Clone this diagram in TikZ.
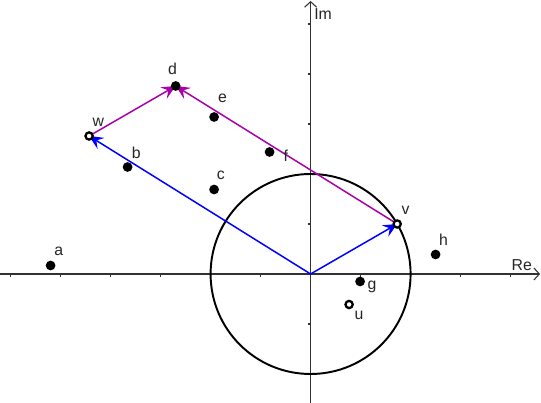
\documentclass[tikz,border=0pt]{standalone}
\usepackage{fontspec}
\setmainfont{Liberation Sans}
\usepackage{xcolor}
\usepackage{tikz}
\usetikzlibrary{arrows.meta,positioning}

\definecolor{vecBlue}{RGB}{0,0,255}
\definecolor{vecMagenta}{RGB}{170,0,170}
\definecolor{axisGray}{RGB}{50,50,50}

\begin{document}
\begin{tikzpicture}[x=1cm,y=1cm]
	\tikzstyle{dot} = [circle, fill=black, inner sep=0pt, minimum size=1.95mm]
	\tikzstyle{hollow} = [circle, draw=black, fill=white, line width=1.3pt, inner sep=0pt, minimum size=1.45mm]
	\tikzstyle{lbl} = [inner sep=0pt, text=black!85, font=\fontsize{9}{10}\selectfont]
	\tikzstyle{axis} = [line width=0.6pt, draw=axisGray, -{Straight Barb[length=1.1mm,width=2.4mm]}]
	\tikzstyle{tick} = [line width=0.6pt, draw=axisGray]
	\tikzstyle{vector} = [line width=0.85pt, -{Stealth[length=2.8mm,width=2.6mm,inset=1.1mm]}]
	\useasboundingbox (-6.212,-2.58) rectangle (4.608,5.48);
	% axes
	\coordinate (origin) at (0,0);
	\coordinate (reStart) at (-6.3,0);
	\coordinate (reEnd) at (4.59,0);
	\coordinate (imStart) at (0,-2.7);
	\coordinate (imEnd) at (0,5.46);
	\draw [axis] (reStart) -- (reEnd);
	\draw [axis] (imStart) -- (imEnd);
	\draw [tick] (-6,0) -- (-6,-0.06) (-5,0) -- (-5,-0.06) (-4,0) -- (-4,-0.06)
		(-3,0) -- (-3,-0.06) (-2,0) -- (-2,-0.06) (-1,0) -- (-1,-0.06)
		(1,0) -- (1,-0.06) (2,0) -- (2,-0.06) (3,0) -- (3,-0.06) (4,0) -- (4,-0.06);
	\draw [tick] (0,-2) -- (-0.06,-2) (0,-1) -- (-0.06,-1) (0,1) -- (-0.06,1)
		(0,2) -- (-0.06,2) (0,3) -- (-0.06,3) (0,4) -- (-0.06,4) (0,5) -- (-0.06,5);
	\node (re) [lbl] at (4.222,0.18) {Re};
	\node (im) [lbl] at (0.25,5.2) {Im};
	% circle
	\draw [line width=1.1pt] (origin) circle (2);
	% vectors
	\coordinate (posV) at (1.732,1);
	\coordinate (posW) at (-4.43,2.76);
	\coordinate (posD) at (-2.698,3.76);
	\draw [vector, vecBlue] (origin) -- (posV);
	\draw [vector, vecBlue] (origin) -- (posW);
	\draw [vector, vecMagenta] (posW) -- (posD);
	\draw [vector, vecMagenta] (posV) -- (posD);
	% points
	\node (pointA) [dot] at (-5.20,0.17) {};
	\node (pointB) [dot] at (-3.66,2.14) {};
	\node (pointC) [dot] at (-1.93,1.69) {};
	\node (pointD) [dot] at (posD) {};
	\node (pointE) [dot] at (-1.93,3.14) {};
	\node (pointF) [dot] at (-0.82,2.44) {};
	\node (pointG) [dot] at (0.99,-0.15) {};
	\node (pointH) [dot] at (2.50,0.39) {};
	\node (pointU) [hollow] at (0.77,-0.61) {};
	\node (pointV) [hollow] at (posV) {};
	\node (pointW) [hollow] at (posW) {};
	% labels
	\node (labelA) [lbl] at (-5.038,0.446) {a};
	\node (labelB) [lbl] at (-3.486,2.414) {b};
	\node (labelC) [lbl] at (-1.796,1.98) {c};
	\node (labelD) [lbl] at (-2.762,4.094) {d};
	\node (labelE) [lbl] at (-1.76,3.506) {e};
	\node (labelF) [lbl] at (-0.498,2.36) {f};
	\node (labelG) [lbl] at (1.228,-0.266) {g};
	\node (labelH) [lbl] at (2.656,0.694) {h};
	\node (labelU) [lbl] at (0.966,-0.826) {u};
	\node (labelV) [lbl] at (1.898,1.28) {v};
	\node (labelW) [lbl] at (-4.246,3.034) {w};
\end{tikzpicture}
\end{document}
